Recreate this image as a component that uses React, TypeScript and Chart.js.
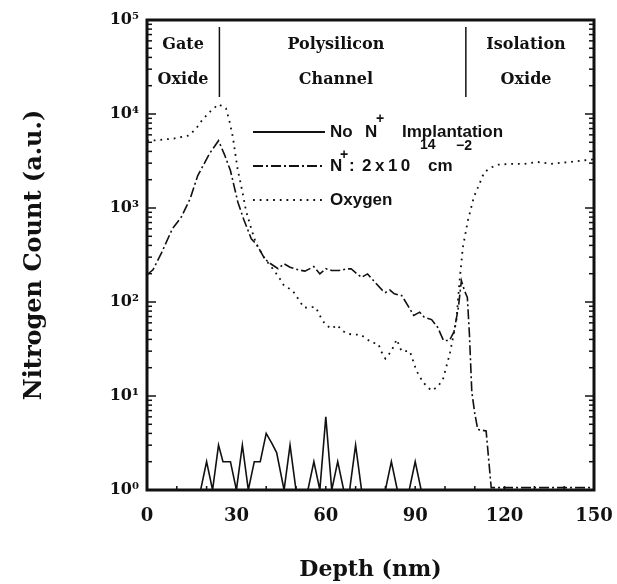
import React, { useEffect, useRef } from "react";
import { Chart, registerables } from "chart.js";

Chart.register(...registerables);

// ---- Data (depth in nm, nitrogen count in a.u.) ----
const depthNoImpl = [0, 18, 20, 22, 24, 25.5, 28, 30, 32, 34, 36, 38, 40, 42, 43.5, 46, 48, 50, 54, 56, 58, 60, 62, 64, 66, 68, 70, 72, 80, 82, 84, 88, 90, 92, 150];
const countNoImpl = [1, 1, 2, 1, 3, 2, 2, 1, 3, 1, 2, 2, 4, 3.1, 2.5, 1, 3, 1, 1, 2, 1, 6, 1, 2, 1, 1, 3, 1, 1, 2, 1, 1, 2, 1, 1];

const depthImpl = [0, 2, 5, 8.5, 11.5, 14.5, 17, 21, 24, 26, 28, 30.5, 32.5, 35, 37, 39.5, 41.5, 44, 46, 48, 51, 53, 56, 58, 60, 62, 64.5, 67, 68.5, 70.5, 72, 74, 76.5, 79, 80, 81.5, 83, 85.5, 87.5, 89.5, 91.5, 93, 95.5, 97.5, 99.5, 101.5, 103, 104.5, 105.5, 106.5, 107.5, 108.2, 109, 110, 111, 113.8, 115.5, 120, 130, 140, 150];
const countImpl = [195, 220, 340, 600, 800, 1260, 2200, 3800, 5200, 3700, 2500, 1150, 750, 470, 400, 288, 255, 226, 255, 234, 219, 213, 238, 199, 226, 216, 216, 225, 226, 199, 183, 199, 162, 133, 126, 134, 122, 117, 92, 72, 78, 69, 65, 54, 39, 39, 48, 88, 169, 133, 112, 45, 11, 6.5, 4.4, 4.25, 1.06, 1.06, 1.06, 1.06, 1.06];

const depthOxygen = [0, 3, 9, 14, 16.5, 18.5, 21, 24, 26.5, 27.7, 28.8, 30.4, 32, 33.2, 35, 36.6, 39.5, 42.7, 44.3, 46, 48.8, 50.4, 52.7, 54.9, 56.6, 58.6, 60, 62, 63.8, 65.4, 67.1, 69.3, 71.6, 73.5, 75.4, 77.6, 78.8, 80, 82, 83.8, 85.4, 88.2, 90.4, 92.7, 95.4, 97.5, 99.3, 101.6, 103.8, 104.9, 106, 107.7, 109.7, 111.6, 113.2, 115.4, 117.7, 122, 126.6, 131, 135.4, 142, 147, 150];
const countOxygen = [5200, 5250, 5480, 5900, 7000, 8600, 10500, 12700, 11500, 8300, 5700, 2600, 1500, 940, 600, 417, 290, 215, 183, 149, 133, 112, 87, 88, 88, 66, 57, 52, 57, 50, 46, 45, 45, 41, 37, 36, 29, 25, 30, 40, 30, 30, 18.6, 13.9, 11.4, 12.5, 15, 28, 63, 169, 383, 740, 1310, 1820, 2410, 2690, 2890, 2950, 2950, 3090, 2950, 3090, 3220, 3300];

const xTicks = [0, 30, 60, 90, 120, 150];
const yTicks = [1, 10, 100, 1000, 10000, 100000];
const supDigits = ["⁰", "¹", "²", "³", "⁴", "⁵"];

// region labels (center depth) and boundaries (depth)
const regionCenters = [12.1, 63.4, 127.2];
const regionLine1 = ["Gate", "Polysilicon", "Isolation"];
const regionLine2 = ["Oxide", "Channel", "Oxide"];
const regionBoundaries = [24.3, 107];

const INK = "#111";
const DASH_DOT = [10, 3, 2, 3];
const DOTTED = [1.8, 4.9];

const decorPlugin = {
  id: "refDecor",
  afterDraw(chart: any) {
    const { ctx, chartArea: a, scales } = chart;
    const xs = scales.x;
    const ys = scales.y;
    ctx.save();
    ctx.strokeStyle = INK;
    ctx.fillStyle = INK;
    const seg = (x1: number, y1: number, x2: number, y2: number) => {
      ctx.beginPath();
      ctx.moveTo(x1, y1);
      ctx.lineTo(x2, y2);
      ctx.stroke();
    };

    // frame
    ctx.setLineDash([]);
    ctx.lineWidth = 3;
    ctx.strokeRect(a.left, a.top, a.right - a.left, a.bottom - a.top);

    // inner ticks on left and right
    ctx.lineWidth = 1.5;
    for (let d = 0; d < 5; d++) {
      for (let m = 1; m < 10; m++) {
        const py = ys.getPixelForValue(m * Math.pow(10, d));
        const len = m === 1 ? 9 : 5;
        seg(a.left, py, a.left + len, py);
        seg(a.right, py, a.right - len, py);
      }
    }
    // bottom ticks
    for (let v = 10; v < 150; v += 10) {
      const px = xs.getPixelForValue(v);
      seg(px, a.bottom, px, a.bottom - 4);
    }

    // region labels
    ctx.font = 'bold 16px "DejaVu Serif"';
    ctx.textAlign = "center";
    ctx.textBaseline = "middle";
    regionCenters.forEach((c, i) => {
      const px = xs.getPixelForValue(c);
      ctx.fillText(regionLine1[i], px, a.top + 25);
      ctx.fillText(regionLine2[i], px, a.top + 60);
    });
    ctx.lineWidth = 1.5;
    regionBoundaries.forEach((b) => {
      const px = xs.getPixelForValue(b);
      seg(px, a.top + 7, px, a.top + 77);
    });

    // legend
    const lx0 = a.left + 106;
    const lx1 = a.left + 178;
    const tx = a.left + 183;
    const r1 = a.top + 112;
    const r2 = a.top + 146;
    const r3 = a.top + 180;
    ctx.lineWidth = 1.8;
    ctx.setLineDash([]);
    seg(lx0, r1, lx1, r1);
    ctx.setLineDash(DASH_DOT);
    seg(lx0, r2, lx1, r2);
    ctx.setLineDash(DOTTED);
    seg(lx0, r3, lx1, r3);
    ctx.setLineDash([]);

    ctx.textAlign = "left";
    ctx.textBaseline = "middle";
    const main = 'bold 17px "Liberation Sans"';
    const sup = 'bold 14px "Liberation Sans"';
    ctx.font = main;
    ctx.fillText("No", tx, r1);
    ctx.fillText("N", tx + 35, r1);
    ctx.fillText("Implantation", tx + 72, r1);
    ctx.font = sup;
    ctx.fillText("+", tx + 46, r1 - 13);

    ctx.font = main;
    ctx.fillText("N", tx, r2);
    ctx.fillText(":", tx + 19, r2);
    (ctx as any).letterSpacing = "3.5px";
    ctx.fillText("2x10", tx + 32, r2);
    (ctx as any).letterSpacing = "0px";
    ctx.fillText("cm", tx + 98, r2);
    ctx.font = sup;
    ctx.fillText("+", tx + 10, r2 - 11);
    ctx.fillText("14", tx + 90, r2 - 21);
    ctx.fillText("−2", tx + 126, r2 - 20);

    ctx.font = main;
    ctx.fillText("Oxygen", tx, r3);

    ctx.restore();
  },
};

export default function App() {
  const ref = useRef<HTMLCanvasElement | null>(null);

  useEffect(() => {
    if (!ref.current) return;
    const toPts = (xs: number[], ys: number[]) => xs.map((x, i) => ({ x, y: ys[i] }));
    const chart = new Chart(ref.current, {
      type: "line",
      data: {
        datasets: [
          {
            label: "No N+ Implantation",
            data: toPts(depthNoImpl, countNoImpl),
            borderColor: INK,
            borderWidth: 1.6,
            pointRadius: 0,
            tension: 0,
          },
          {
            label: "N+ : 2x10^14 cm^-2",
            data: toPts(depthImpl, countImpl),
            borderColor: INK,
            borderWidth: 1.6,
            borderDash: DASH_DOT,
            pointRadius: 0,
            tension: 0,
          },
          {
            label: "Oxygen",
            data: toPts(depthOxygen, countOxygen),
            borderColor: INK,
            borderWidth: 1.8,
            borderDash: DOTTED,
            pointRadius: 0,
            tension: 0,
          },
        ],
      },
      options: {
        animation: false,
        responsive: false,
        devicePixelRatio: 1,
        layout: { padding: { top: 20, right: 23, left: 0, bottom: 0 } },
        plugins: { legend: { display: false }, tooltip: { enabled: false } },
        scales: {
          x: {
            type: "linear",
            min: 0,
            max: 150,
            grid: { display: false, drawTicks: false },
            border: { display: false },
            afterBuildTicks: (s: any) => {
              s.ticks = xTicks.map((v) => ({ value: v }));
            },
            afterFit: (s: any) => {
              s.height = 94;
              s.paddingLeft = 0;
              s.paddingRight = 0;
            },
            ticks: {
              color: INK,
              padding: 16,
              maxRotation: 0,
              font: { family: '"DejaVu Serif"', size: 18, weight: "bold" },
            },
            title: {
              display: true,
              text: "Depth (nm)",
              color: INK,
              padding: { top: 0, bottom: 1 },
              font: { family: '"DejaVu Serif"', size: 22, weight: "bold" },
            },
          },
          y: {
            type: "logarithmic",
            min: 1,
            max: 100000,
            grid: { display: false, drawTicks: false },
            border: { display: false },
            afterBuildTicks: (s: any) => {
              s.ticks = yTicks.map((v) => ({ value: v, major: true }));
            },
            afterFit: (s: any) => {
              s.width = 147;
              s.paddingTop = 0;
              s.paddingBottom = 0;
            },
            ticks: {
              color: INK,
              padding: 8,
              font: { family: '"DejaVu Serif"', size: 16, weight: "bold" },
              callback: (v: any) => "10" + supDigits[Math.round(Math.log10(Number(v)))],
            },
            title: {
              display: true,
              text: "Nitrogen Count (a.u.)",
              color: INK,
              padding: { top: 20, bottom: 0 },
              font: { family: '"DejaVu Serif"', size: 24, weight: "bold" },
            },
          },
        },
      },
      plugins: [decorPlugin],
    });
    return () => chart.destroy();
  }, []);

  return (
    <div style={{ position: "fixed", left: 0, top: 0, width: 617, height: 584, background: "#fff" }}>
      <canvas ref={ref} width={617} height={584} style={{ display: "block" }} />
    </div>
  );
}
